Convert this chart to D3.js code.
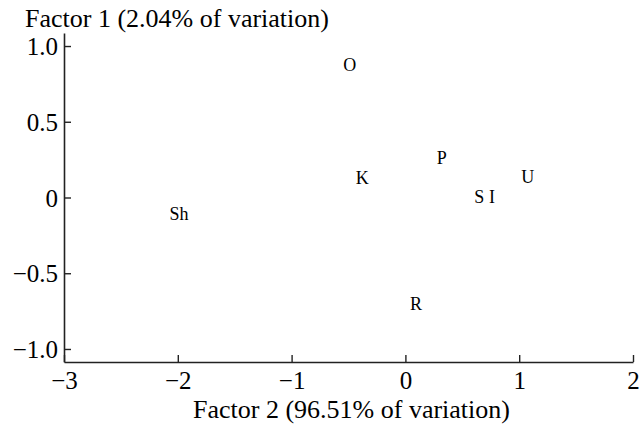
<!DOCTYPE html>
<html><head><meta charset="utf-8">
<script src="https://cdn.jsdelivr.net/npm/d3@7"></script>
<style>body{margin:0;background:#fff}svg{display:block}text{font-family:"Liberation Serif","Times New Roman",serif;fill:#000}</style>
</head><body><svg id="c" width="644" height="426"></svg>
<script>
const labels = ["O","P","K","U","S","I","Sh","R"];
const factor2 = [-0.49, 0.32, -0.38, 1.076, 0.65, 0.76, -1.99, 0.094];
const factor1 = [0.875, 0.265, 0.133, 0.135, 0.005, 0.005, -0.104, -0.70];
const xTicks = [-3,-2,-1,0,1,2];
const yTicks = [-1.0,-0.5,0,0.5,1.0];
const yTickLabels = ["\u22121.0","\u22120.5","0","0.5","1.0"];
const xTickLabels = ["\u22123","\u22122","\u22121","0","1","2"];

const svg = d3.select("#c");
const x = d3.scaleLinear().domain([-3,2]).range([64,633]);
const y = d3.scaleLinear().domain([-1.086,1.086]).range([362,33]);

const gx = svg.append("g").attr("transform","translate(0,362)")
  .call(d3.axisBottom(x).tickValues(xTicks).tickSize(-7).tickSizeOuter(0).tickPadding(9).tickFormat((d,i)=>xTickLabels[i]));
const gy = svg.append("g").attr("transform","translate(64,0)")
  .call(d3.axisLeft(y).tickValues(yTicks).tickSize(-7).tickSizeOuter(0).tickPadding(6).tickFormat((d,i)=>yTickLabels[i]));
[gx,gy].forEach(g=>{
  g.select(".domain").attr("stroke","#222").attr("stroke-width",1.6);
  g.selectAll(".tick line").attr("stroke","#222").attr("stroke-width",1.4);
  g.selectAll(".tick text").attr("font-size",25).attr("font-family",'"Liberation Serif",serif').attr("fill","#000");
});
gx.selectAll(".tick text").attr("dy","0.71em");
gy.selectAll(".tick text").attr("dy","0.35em");

svg.append("text").attr("x",25).attr("y",27).attr("font-size",26).text("Factor 1 (2.04% of variation)");
svg.append("text").attr("x",193).attr("y",418).attr("font-size",26).text("Factor 2 (96.51% of variation)");

svg.append("g").selectAll("text").data(labels).join("text")
  .attr("x",(d,i)=>x(factor2[i])).attr("y",(d,i)=>y(factor1[i]))
  .attr("dy","0.35em").attr("text-anchor","middle").attr("font-size",18).text(d=>d);
</script></body></html>
